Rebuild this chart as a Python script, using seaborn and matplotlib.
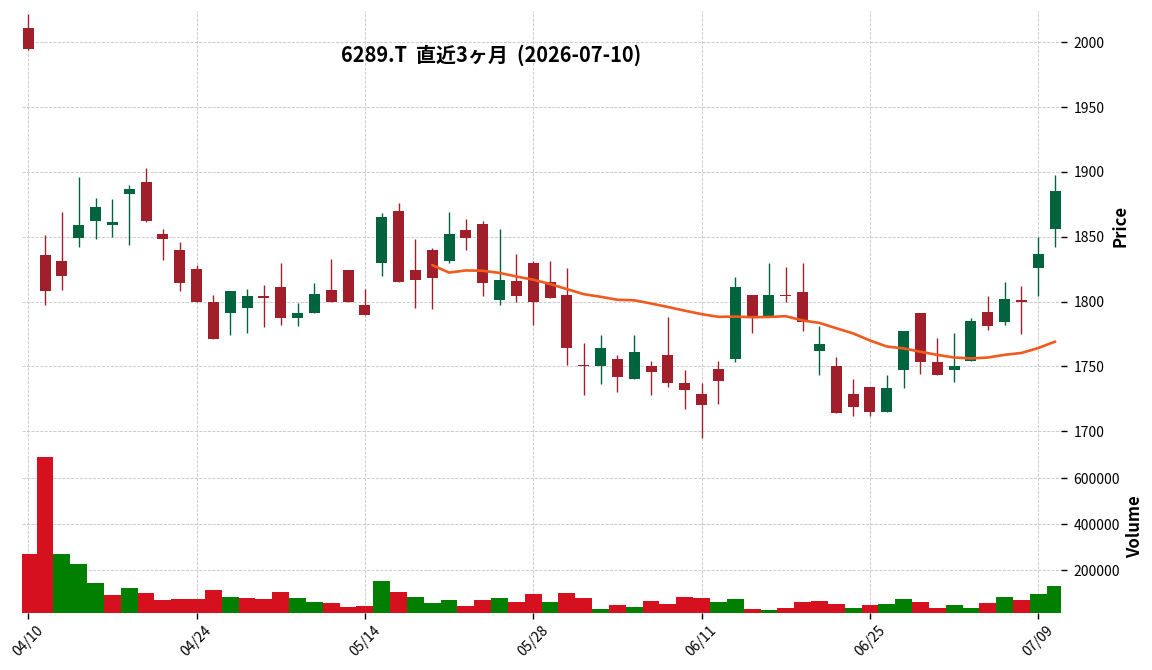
import numpy as np
import pandas as pd
import seaborn as sns
import matplotlib
matplotlib.use("Agg")
import matplotlib.pyplot as plt
from matplotlib.ticker import FuncFormatter

# trading days shown (2026)
dates = ["04/10", "04/13", "04/14", "04/15", "04/16", "04/17", "04/20", "04/21", "04/22", "04/23",
         "04/24", "04/27", "04/28", "04/30", "05/01", "05/07", "05/08", "05/11", "05/12", "05/13",
         "05/14", "05/15", "05/18", "05/19", "05/20", "05/21", "05/22", "05/25", "05/26", "05/27",
         "05/28", "05/29", "06/01", "06/02", "06/03", "06/04", "06/05", "06/08", "06/09", "06/10",
         "06/11", "06/12", "06/15", "06/16", "06/17", "06/18", "06/19", "06/22", "06/23", "06/24",
         "06/25", "06/26", "06/29", "06/30", "07/01", "07/02", "07/03", "07/06", "07/07", "07/08",
         "07/09", "07/10"]

opens = [2011, 1836, 1831, 1849, 1862, 1859, 1883, 1892, 1852, 1840,
         1825, 1800, 1791, 1795, 1804, 1811, 1787, 1791, 1809, 1824,
         1797, 1830, 1870, 1824, 1840, 1831, 1855, 1860, 1801, 1816,
         1830, 1815, 1805, 1751, 1750, 1756, 1740, 1750, 1759, 1737,
         1729, 1748, 1756, 1805, 1788, 1805, 1807, 1762, 1750, 1729,
         1734, 1715, 1747, 1791, 1753, 1747, 1754, 1792, 1784, 1801,
         1826, 1856]
highs = [2022, 1851, 1869, 1896, 1880, 1879, 1890, 1903, 1856, 1846,
         1828, 1805, 1808, 1810, 1813, 1830, 1799, 1814, 1833, 1824,
         1810, 1868, 1876, 1848, 1841, 1869, 1864, 1862, 1856, 1837,
         1831, 1831, 1826, 1768, 1774, 1759, 1774, 1754, 1788, 1747,
         1737, 1754, 1819, 1805, 1830, 1827, 1830, 1781, 1757, 1740,
         1734, 1743, 1777, 1791, 1772, 1776, 1787, 1804, 1815, 1812,
         1850, 1898]
lows = [1994, 1797, 1809, 1842, 1848, 1850, 1844, 1861, 1832, 1808,
        1800, 1771, 1774, 1776, 1780, 1782, 1781, 1791, 1800, 1800,
        1790, 1820, 1815, 1795, 1794, 1830, 1840, 1804, 1797, 1800,
        1782, 1803, 1751, 1728, 1736, 1730, 1740, 1728, 1734, 1717,
        1695, 1721, 1753, 1776, 1788, 1800, 1777, 1743, 1714, 1712,
        1712, 1715, 1733, 1744, 1743, 1738, 1754, 1778, 1782, 1775,
        1804, 1842]
closes = [1995, 1808, 1820, 1859, 1873, 1861, 1887, 1862, 1848, 1814,
          1800, 1771, 1808, 1804, 1803, 1787, 1791, 1806, 1800, 1800,
          1790, 1865, 1815, 1817, 1818, 1852, 1849, 1814, 1817, 1804,
          1800, 1803, 1764, 1750, 1764, 1742, 1761, 1746, 1737, 1732,
          1720, 1739, 1811, 1788, 1805, 1804, 1784, 1767, 1714, 1719,
          1715, 1733, 1777, 1753, 1743, 1750, 1785, 1781, 1802, 1800,
          1837, 1885]
volumes = [271000, 693000, 271000, 227000, 145000, 93000, 123000, 101000, 71000, 75000,
           75000, 114000, 84000, 80000, 75000, 106000, 80000, 62000, 58000, 40000,
           45000, 154000, 106000, 84000, 58000, 71000, 45000, 71000, 80000, 62000,
           97000, 62000, 101000, 80000, 32000, 49000, 40000, 67000, 54000, 84000,
           80000, 62000, 75000, 32000, 27000, 36000, 62000, 67000, 54000, 36000,
           49000, 54000, 75000, 62000, 36000, 49000, 36000, 58000, 84000, 71000,
           97000, 132000]

title = "6289.T  直近3ヶ月  (2026-07-10)"

df = pd.DataFrame({"date": dates, "open": opens, "high": highs, "low": lows,
                   "close": closes, "volume": volumes})
df["i"] = np.arange(len(df))
df["ma25"] = df["close"].rolling(25).mean()
df["candle"] = np.where(df["close"] >= df["open"], "up", "down")
df["vdir"] = np.where(df["close"].diff() > 0, "up", "down")

sns.set_theme(style="whitegrid", rc={
    "grid.linestyle": "--",
    "grid.color": "#c4c4c4",
    "grid.linewidth": 0.6,
    "axes.edgecolor": "white",
    "text.color": "black",
    "axes.labelcolor": "black",
    "xtick.color": "black",
    "ytick.color": "black",
})
plt.rcParams["font.family"] = ["Noto Sans CJK JP", "DejaVu Sans"]

candle_colors = {"up": "#00643f", "down": "#a11f2a"}
vol_colors = {"up": "#007f00", "down": "#d5101f"}

fig = plt.figure(figsize=(11.52, 6.7), dpi=100)
ax = fig.add_axes([0.0188, 0.3418, 0.9022, 0.6418])
axv = fig.add_axes([0.0188, 0.0855, 0.9022, 0.2563], sharex=ax)

# candles
cc = df["candle"].map(candle_colors)
body_lo = df[["open", "close"]].min(axis=1)
body_h = (df["open"] - df["close"]).abs().clip(lower=0.8)
ax.vlines(df["i"], df["low"], df["high"], colors=cc, linewidth=1.0, zorder=2)
ax.bar(df["i"], body_h, bottom=body_lo, width=0.65, color=cc, linewidth=0, zorder=3)

# 25-day moving average
ma = df.dropna(subset=["ma25"])
sns.lineplot(x=ma["i"], y=ma["ma25"], ax=ax, color="#f05a1e", linewidth=1.9, zorder=4)

# volume
sns.barplot(data=df, x="i", y="volume", hue="vdir", palette=vol_colors, native_scale=True,
            dodge=False, width=1.0, saturation=1, errorbar=None, legend=False,
            linewidth=0, ax=axv)

tick_pos = list(range(0, len(df), 10))
for a in (ax, axv):
    a.set_xlim(-0.39, 61.35)
    a.set_xticks(tick_pos)
    a.grid(True, axis="both")
    a.yaxis.tick_right()
    a.tick_params(axis="y", right=True, left=False, length=4, width=1, color="black",
                  labelsize=10, pad=5)
    for s in a.spines.values():
        s.set_visible(False)

ax.set_ylim(df["low"].min() - 2.6, df["high"].max() + 2.2)
ax.set_yticks(np.arange(1700, 2001, 50))
ax.tick_params(axis="x", bottom=False, labelbottom=False)
ax.set_xlabel("")
ax.set_ylabel("Price", fontsize=12, fontweight="bold")
ax.yaxis.set_label_position("right")
ax.yaxis.set_label_coords(1.049, 0.5)

axv.set_ylim(15600, df["volume"].max() * 1.1)
axv.set_yticks([200000, 400000, 600000])
axv.yaxis.set_major_formatter(FuncFormatter(lambda v, p: f"{int(v)}"))
axv.set_xticklabels([dates[k] for k in tick_pos], rotation=45, fontsize=10)
axv.tick_params(axis="x", bottom=True, length=4, width=1, color="black", labelsize=10)
axv.set_xlabel("")
axv.set_ylabel("Volume", fontsize=12, fontweight="bold")
axv.yaxis.set_label_position("right")
axv.yaxis.set_label_coords(1.0626, 0.5)

fig.text(0.4262, 0.917, title, ha="center", va="center", fontsize=14.4, fontweight="bold")

fig.savefig("out.png", dpi=100)
